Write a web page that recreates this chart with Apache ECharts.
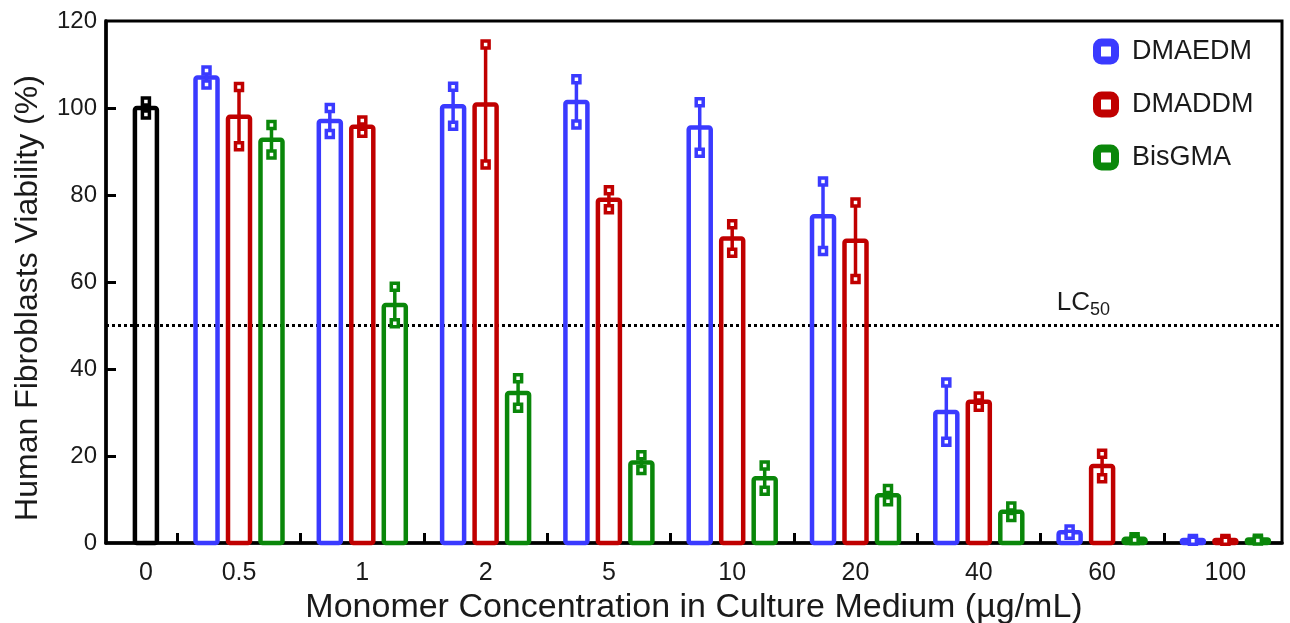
<!DOCTYPE html>
<html>
<head>
<meta charset="utf-8">
<script src="https://cdn.jsdelivr.net/npm/echarts@6/dist/echarts.min.js"></script>
<style>
html,body{margin:0;padding:0;background:#fff;}
#chart{width:1290px;height:623px;}
</style>
</head>
<body>
<div id="chart"></div>
<script>
// ---------- data ----------
const categories = ['0', '0.5', '1', '2', '5', '10', '20', '40', '60', '100'];
const control   = [100];
const controlSD = [1.5];
const dmaedm    = [null, 107, 97, 100.4, 101.4, 95.5, 75.1, 30.1, 2.5, 0.7];
const dmaedmSD  = [null, 1.6, 3.0, 4.5, 5.2, 5.8, 8.0, 6.8, 0.6, 0.2];
const dmaddm    = [null, 98, 95.7, 100.8, 78.9, 70.0, 69.5, 32.5, 17.7, 0.7];
const dmaddmSD  = [null, 6.8, 1.4, 13.8, 2.2, 3.3, 8.8, 1.2, 2.8, 0.2];
const bisgma    = [null, 92.7, 54.7, 34.5, 18.5, 14.9, 11.0, 7.2, 1.0, 0.8];
const bisgmaSD  = [null, 3.4, 4.2, 3.4, 1.7, 2.9, 1.4, 1.2, 0.3, 0.2];
const yTicks = [0, 20, 40, 60, 80, 100, 120];
const lc50 = 50;

// ---------- layout ----------
const FONT = 'Liberation Sans, Arial, sans-serif';
const TXT = '#1a1a1a';
const COLORS = { DMAEDM: '#3a3aff', DMADDM: '#c00000', BisGMA: '#0a870a', Control: '#000000' };
const SLOT = 0.2635;   // bar pitch inside a group (axis units)
const BAR_W = 0.1784;  // bar width (axis units)
// group centre on the x value axis; the single control group sits closer to the y axis
const xPos = categories.map((c, i) => i === 0 ? 0.245 : i);

function toData(vals, sds) {
  const out = [];
  vals.forEach((v, i) => { if (v != null) out.push([xPos[i], v, sds[i]]); });
  return out;
}

function makeRender(slot, color) {
  return function (params, api) {
    const x = api.value(0) + slot * SLOT;
    const v = api.value(1), sd = api.value(2);
    const top = api.coord([x, v]);
    const base = api.coord([x, 0]);
    const w = api.size([BAR_W, 0])[0];
    const hi = api.coord([x, v + sd]);
    const lo = api.coord([x, Math.max(v - sd, 0)]);
    const cap = 7;
    return {
      type: 'group',
      children: [
        { type: 'rect', shape: { x: top[0] - w / 2, y: top[1], width: w, height: base[1] - top[1], r: 2 },
          style: { fill: 'none', stroke: color, lineWidth: 4.5 } },
        { type: 'line', shape: { x1: hi[0], y1: hi[1], x2: lo[0], y2: lo[1] },
          style: { stroke: color, lineWidth: 3.5 } },
        { type: 'rect', shape: { x: hi[0] - cap / 2, y: hi[1] - cap / 2, width: cap, height: cap },
          style: { fill: '#fff', stroke: color, lineWidth: 3.5 } },
        { type: 'rect', shape: { x: lo[0] - cap / 2, y: lo[1] - cap / 2, width: cap, height: cap },
          style: { fill: '#fff', stroke: color, lineWidth: 3.5 } }
      ]
    };
  };
}

function series(name, vals, sds, slot) {
  const c = COLORS[name];
  return {
    name: name, type: 'custom',
    renderItem: makeRender(slot, c),
    itemStyle: { color: '#fff', borderColor: c, borderWidth: 8 },
    data: toData(vals, sds),
    encode: { x: 0, y: 1 },
    clip: false, z: 3
  };
}

const legendItem = (n) => ({ name: n, icon: 'roundRect',
  itemStyle: { color: '#fff', borderColor: COLORS[n], borderWidth: 8 } });

const chart = echarts.init(document.getElementById('chart'), null, { renderer: 'canvas' });
const xTicks = categories.slice(1).map((c, i) => i + 0.5);

const option = {
  animation: false,
  backgroundColor: '#fff',
  textStyle: { fontFamily: FONT },
  grid: { left: 106, right: 8, top: 21, bottom: 80, show: true, borderColor: '#000', borderWidth: 3,
    containLabel: false, outerBoundsMode: 'none' },
  legend: {
    orient: 'vertical', left: 1088, top: 33,
    itemWidth: 18, itemHeight: 18, itemGap: 26,
    data: ['DMAEDM', 'DMADDM', 'BisGMA'].map(legendItem),
    textStyle: { fontFamily: FONT, fontSize: 27, color: TXT, padding: [0, 0, 0, 12] }
  },
  xAxis: {
    type: 'value', min: -0.0787, max: 9.459,
    name: 'Monomer Concentration in Culture Medium (µg/mL)',
    nameLocation: 'middle', nameGap: 41,
    nameTextStyle: { fontFamily: FONT, fontSize: 34, color: TXT },
    splitLine: { show: false },
    axisLine: { onZero: false, lineStyle: { color: '#000', width: 3.5 } },
    axisTick: { show: true, inside: true, length: 10, customValues: xTicks, lineStyle: { color: '#000', width: 3 } },
    axisLabel: { customValues: xPos, formatter: (v) => categories[Math.round(v)],
      fontFamily: FONT, fontSize: 25, color: TXT, margin: 18 }
  },
  yAxis: {
    type: 'value', min: 0, max: 120, interval: 20,
    name: 'Human Fibroblasts Viability (%)',
    nameLocation: 'middle', nameGap: 62,
    nameTextStyle: { fontFamily: FONT, fontSize: 32, color: TXT, padding: [0, 32, 0, 0] },
    splitLine: { show: false },
    axisLine: { onZero: false, lineStyle: { color: '#000', width: 3.5 } },
    axisTick: { inside: true, length: 10, customValues: yTicks.slice(1, -1), lineStyle: { color: '#000', width: 3 } },
    axisLabel: { customValues: yTicks, fontFamily: FONT, fontSize: 24, color: TXT, margin: 9 }
  },
  series: [
    Object.assign(series('Control', control, controlSD, 0), {
      markLine: {
        silent: true, symbol: 'none', z: 2,
        lineStyle: { color: '#000', width: 3, type: [3, 3] },
        label: { show: true, position: 'insideEndTop', formatter: '{a|LC}{b|50}', padding: [0, 167, 1, 0],
          rich: { a: { fontFamily: FONT, fontSize: 26, color: TXT, lineHeight: 30, verticalAlign: 'top' },
                  b: { fontFamily: FONT, fontSize: 18, color: TXT, lineHeight: 18, verticalAlign: 'bottom' } } },
        data: [{ yAxis: lc50 }]
      }
    }),
    series('DMAEDM', dmaedm, dmaedmSD, -1),
    series('DMADDM', dmaddm, dmaddmSD, 0),
    series('BisGMA', bisgma, bisgmaSD, 1)
  ]
};
chart.setOption(option);
</script>
</body>
</html>
